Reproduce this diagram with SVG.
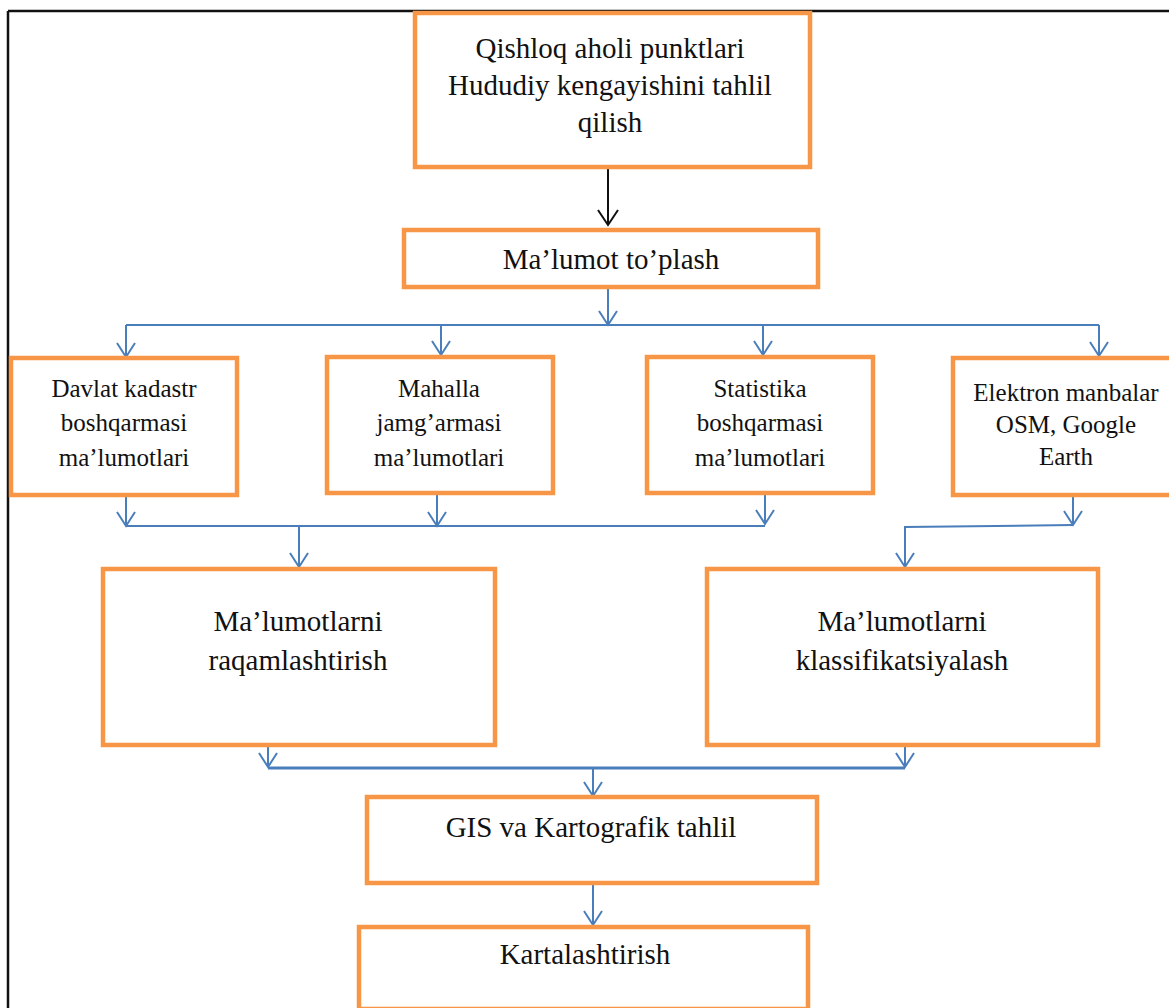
<svg xmlns="http://www.w3.org/2000/svg" width="1169" height="1008" viewBox="0 0 1169 1008">
<style>
.box{fill:#fff;stroke:#F79646;stroke-width:4.5}
text{font-family:'Liberation Serif','DejaVu Serif',serif;fill:#111;text-anchor:middle}
.big{font-size:29px}
.sm{font-size:25px}
.c{fill:none;stroke:#4A7EBB;stroke-width:2}
.a{fill:none;stroke:#4A7EBB;stroke-width:2;marker-end:url(#ab)}
</style>
<defs>
<marker id="ab" markerWidth="20" markerHeight="22" refX="15" refY="10" orient="auto" markerUnits="userSpaceOnUse">
<path d="M1,1 L15,10 L1,19" fill="none" stroke="#4A7EBB" stroke-width="2"/>
</marker>
<marker id="ak" markerWidth="20" markerHeight="24" refX="16" refY="11" orient="auto" markerUnits="userSpaceOnUse">
<path d="M1,1 L16,11 L1,21" fill="none" stroke="#111" stroke-width="2"/>
</marker>
</defs>
<rect width="1169" height="1008" fill="#fff"/>
<g id="frame">
<line x1="8" y1="11" x2="1169" y2="11" stroke="#111" stroke-width="2.5"/>
<line x1="8" y1="11" x2="8" y2="1008" stroke="#111" stroke-width="2.5"/>
</g>
<g id="connectors">
<line x1="608" y1="168" x2="608" y2="225" stroke="#111" stroke-width="2" marker-end="url(#ak)"/>
<line class="a" x1="608" y1="289" x2="608" y2="325"/>
<line class="c" x1="126" y1="325" x2="1099" y2="325"/>
<line class="a" x1="126" y1="325" x2="126" y2="357"/>
<line class="a" x1="441" y1="325" x2="441" y2="355"/>
<line class="a" x1="763" y1="325" x2="763" y2="355"/>
<line class="a" x1="1099" y1="325" x2="1099" y2="356"/>
<line class="a" x1="126" y1="497" x2="126" y2="526"/>
<line class="a" x1="437" y1="495" x2="437" y2="526"/>
<line class="a" x1="765" y1="495" x2="765" y2="524"/>
<line class="c" x1="126" y1="526" x2="765" y2="526"/>
<line class="a" x1="299" y1="526" x2="299" y2="567"/>
<line class="a" x1="1073" y1="497" x2="1073" y2="525"/>
<polyline class="c" points="1073,525 905,527 905,540"/>
<line class="a" x1="905" y1="527" x2="905" y2="567"/>
<line class="a" x1="268" y1="747" x2="268" y2="767"/>
<line class="a" x1="905" y1="747" x2="905" y2="767"/>
<line x1="268" y1="768" x2="905" y2="768" stroke="#4A7EBB" stroke-width="3.2"/>
<line class="a" x1="593" y1="768" x2="593" y2="796"/>
<line class="a" x1="593" y1="885" x2="593" y2="925"/>
</g>
<g id="n-top">
<rect class="box" x="415" y="13" width="395" height="154"/>
<text class="big" x="610" y="58">Qishloq aholi punktlari</text>
<text class="big" x="610" y="95">Hududiy kengayishini tahlil</text>
<text class="big" x="610" y="132">qilish</text>
</g>
<g id="n-malumot">
<rect class="box" x="404" y="230" width="414" height="57"/>
<text class="big" x="611" y="269">Ma’lumot to’plash</text>
</g>
<g id="n-davlat">
<rect class="box" x="11" y="358" width="226" height="137"/>
<text class="sm" x="124" y="397">Davlat kadastr</text>
<text class="sm" x="124" y="431">boshqarmasi</text>
<text class="sm" x="124" y="466">ma’lumotlari</text>
</g>
<g id="n-mahalla">
<rect class="box" x="327" y="357" width="226" height="136"/>
<text class="sm" x="439" y="397">Mahalla</text>
<text class="sm" x="439" y="431">jamg’armasi</text>
<text class="sm" x="439" y="466">ma’lumotlari</text>
</g>
<g id="n-statistika">
<rect class="box" x="647" y="357" width="226" height="136"/>
<text class="sm" x="760" y="397">Statistika</text>
<text class="sm" x="760" y="431">boshqarmasi</text>
<text class="sm" x="760" y="466">ma’lumotlari</text>
</g>
<g id="n-elektron">
<rect class="box" x="953" y="358" width="222" height="137"/>
<text class="sm" x="1066" y="401">Elektron manbalar</text>
<text class="sm" x="1066" y="433">OSM, Google</text>
<text class="sm" x="1066" y="465">Earth</text>
</g>
<g id="n-raqam">
<rect class="box" x="103" y="569" width="392" height="176"/>
<text class="big" x="298" y="631">Ma’lumotlarni</text>
<text class="big" x="298" y="670">raqamlashtirish</text>
</g>
<g id="n-klass">
<rect class="box" x="707" y="569" width="391" height="176"/>
<text class="big" x="902" y="631">Ma’lumotlarni</text>
<text class="big" x="902" y="670">klassifikatsiyalash</text>
</g>
<g id="n-gis">
<rect class="box" x="367" y="797" width="450" height="86"/>
<text class="big" x="591" y="837">GIS va Kartografik tahlil</text>
</g>
<g id="n-kartal">
<rect class="box" x="359" y="927" width="449" height="82"/>
<text class="big" x="585" y="964">Kartalashtirish</text>
</g>
</svg>
